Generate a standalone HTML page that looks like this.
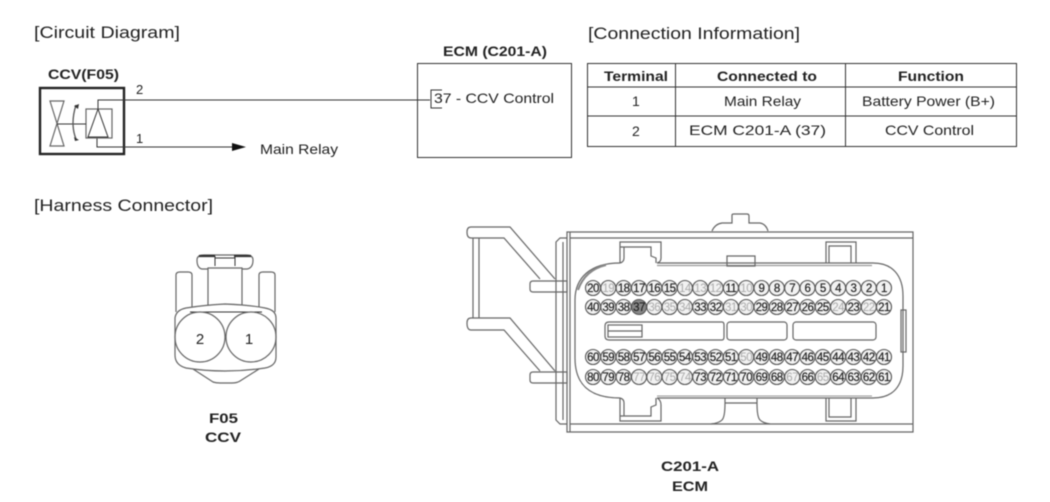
<!DOCTYPE html>
<html><head><meta charset="utf-8"><style>
html,body{margin:0;padding:0;background:#fff}
svg{display:block;filter:blur(.4px)}
text{font-family:"Liberation Sans",sans-serif;fill:#222}
.b{font-weight:bold}
.l{fill:none;stroke:#333;stroke-width:1}
.g{fill:none;stroke:#666;stroke-width:1.2}
.d{fill:none;stroke:#555;stroke-width:1.3}
.p circle{fill:#f2f2f2;stroke:#555;stroke-width:1.1}
.p text{font-size:11.5px;letter-spacing:-.5px;text-anchor:middle;fill:#222;stroke:#222;stroke-width:.2}
.p .f{fill:#aaa;stroke:none}
</style></head><body>
<svg width="1050" height="502" viewBox="0 0 1050 502" xmlns="http://www.w3.org/2000/svg">
<text x="34" y="38" font-size="17" textLength="146" lengthAdjust="spacingAndGlyphs">[Circuit Diagram]</text>
<text x="588" y="39" font-size="17" textLength="212" lengthAdjust="spacingAndGlyphs">[Connection Information]</text>
<text x="34" y="211" font-size="17" textLength="179" lengthAdjust="spacingAndGlyphs">[Harness Connector]</text>

<text x="48" y="79" font-size="14" class="b" textLength="71" lengthAdjust="spacingAndGlyphs">CCV(F05)</text>
<rect x="40" y="88" width="84" height="66" fill="none" stroke="#222" stroke-width="2.4"/>
<text x="136" y="94" font-size="13">2</text>
<text x="136" y="143" font-size="13">1</text>
<path d="M98 109V100H430" class="l" stroke-width="1.2"/>
<path d="M97 138V147H232" class="l"/>
<path d="M232 143L246 147L232 151Z" fill="#111"/>
<text x="260" y="154" font-size="14" textLength="78" lengthAdjust="spacingAndGlyphs">Main Relay</text>
<rect x="86" y="109" width="26" height="29" class="g"/>
<path d="M98 109L88 137H108Z" class="l"/>
<path d="M50 101H64L50 146H64Z" class="g"/>
<path d="M57 124H86" class="l"/>
<path d="M76 105Q70 124 76 139" class="d" stroke-width="1.5"/>
<path d="M74 106L79 104L78 109ZM74 137L79 140L75 141Z" fill="#333"/>

<text x="443" y="56" font-size="14" class="b" textLength="104" lengthAdjust="spacingAndGlyphs">ECM (C201-A)</text>
<rect x="417.500" y="63.500" width="154" height="94" class="l"/>
<path d="M442 90H431V108H442" class="l"/>
<text x="434" y="103" font-size="14" textLength="120" lengthAdjust="spacingAndGlyphs">37 - CCV Control</text>

<rect x="587.500" y="63.500" width="429" height="83" class="l"/>
<path d="M587 87H1017M587 116H1017M675.500 63V147M845.500 63V147" class="l"/>
<g font-size="14">
<text x="604" y="81" class="b" textLength="64" lengthAdjust="spacingAndGlyphs">Terminal</text>
<text x="717" y="81" class="b" textLength="100" lengthAdjust="spacingAndGlyphs">Connected to</text>
<text x="898" y="81" class="b" textLength="66" lengthAdjust="spacingAndGlyphs">Function</text>
<text x="632" y="106">1</text>
<text x="724" y="106" textLength="77" lengthAdjust="spacingAndGlyphs">Main Relay</text>
<text x="862" y="106" textLength="133" lengthAdjust="spacingAndGlyphs">Battery Power (B+)</text>
<text x="632" y="136">2</text>
<text x="689" y="135" textLength="137" lengthAdjust="spacingAndGlyphs">ECM C201-A (37)</text>
<text x="885" y="135" textLength="89" lengthAdjust="spacingAndGlyphs">CCV Control</text>
</g>

<!-- F05 connector -->
<g>
<path d="M192 307V275Q192 272 188 272H180Q176 272 176 275V312" class="g"/>
<path d="M259 307V275Q259 272 263 272H271Q275 272 275 275V312" class="g"/>
<path d="M208 305V268H242V305" class="g"/>
<path d="M208 269H202Q197 268 197 260Q197 255 204 255H246Q253 255 253 260Q253 268 247 269H242" class="g"/>
<path d="M199 256H215M234 256H251" stroke="#333" stroke-width="2.200" fill="none"/>
<path d="M215 256V266M235 256V266M215 258H235" class="l"/>
<path d="M175 337V318Q176 310 186 308Q205 305 225 304Q250 305 265 308Q276 310 276 318V357Q276 366 265 368Q245 371 225 371Q205 371 186 368Q175 365 175 355Z" class="g"/>
<path d="M193 369L213 382Q216 383 220 383H232Q237 383 240 381L259 369" class="g"/>
<path d="M190 312H262" class="l"/>
<circle cx="200" cy="337" r="25" fill="#fff" class="g"/>
<circle cx="251" cy="337" r="25" fill="#fff" class="g"/>
<text x="200" y="344" font-size="15" text-anchor="middle">2</text>
<text x="249" y="344" font-size="15" text-anchor="middle">1</text>
</g>
<text x="209" y="423" font-size="14" class="b" textLength="29" lengthAdjust="spacingAndGlyphs">F05</text>
<text x="205" y="442" font-size="14" class="b" textLength="36" lengthAdjust="spacingAndGlyphs">CCV</text>

<!-- ECM connector -->
<g>
<path d="M712 231Q715 224 722 223H732V215Q732 214 734 214H747Q749 214 749 216V223H760Q766 224 768 231" class="g"/>
<path d="M567 232H913V432H567Z" class="g"/>
<path d="M570 238H913M570 424H913M570 232V432" class="g"/>
<path d="M567 238H560L556 242V420L560 424H567M563 242V420" class="g"/>
<path d="M530 284Q530 281 533 281H567V292H533Q530 292 530 289Z" class="g" fill="#fff"/>
<path d="M530 375Q530 372 533 372H567V383H533Q530 383 530 380Z" class="g" fill="#fff"/>
<path d="M555 279L510 227H471Q467 227 467 232Q467 238 471 238H504L540 279" class="g"/>
<path d="M555 371L510 318H471Q467 318 467 323Q467 330 471 330H504L540 371" class="g"/>
<path d="M473 238V318M479 238V318" class="g"/>
<path d="M657 263H873C893 263 903 276 903 296V366C903 386 893 398 873 398H657" class="g"/>
<path d="M657 265.500H872" stroke="#999" stroke-width="1.200" fill="none"/>
<path d="M657 396H872" stroke="#999" stroke-width="1" fill="none"/>
<path d="M620 263C590 263 575 278 575 300V358C575 385 590 398 620 398" class="g"/>
<path d="M620 263Q624 262 624 258V247M620 263V242H661V258Q661 262 657 263M625 247H651V256L656 258V263M620 247H651" class="g"/>
<path d="M620 398Q624 399 624 403V416M620 398V421H661V405Q661 400 657 398M625 416H651V407L656 405V398M620 416H651" class="g"/>
<path d="M826 263V242H856V263M829 263V246H851V263" class="g"/>
<path d="M826 398V421H856V398M829 398V417H851V398" class="g"/>
<path d="M727 256H755V266H727Z" class="g"/>
<path d="M725 398V403H757V398M725 403Q725 417 722 420Q719 423 711 424M757 403Q757 417 760 420Q763 423 770 424" class="g"/>
<rect x="901" y="310" width="5" height="42" fill="#fff" class="g"/>
<path d="M609 322H722Q724 322 724 325V337Q724 340 722 340H609Q605 340 605 336V326Q605 322 609 322Z" class="g"/>
<rect x="608" y="325" width="34" height="12" class="g"/>
<path d="M608 331H642" class="g"/>
<rect x="727" y="322" width="60" height="18" rx="3" class="g"/>
<rect x="793" y="322" width="83" height="18" rx="3" class="g"/>
<path d="M578 290Q585 270 606 265" stroke="#888" stroke-width="2" fill="none"/>
</g>

<g class="p">
<circle cx="593" cy="288" r="7.500"/><text x="593" y="292">20</text>
<circle cx="608.300" cy="288" r="7.500"/><text x="608.300" y="292" class="f">19</text>
<circle cx="623.600" cy="288" r="7.500"/><text x="623.600" y="292">18</text>
<circle cx="639" cy="288" r="7.500"/><text x="639" y="292">17</text>
<circle cx="654.300" cy="288" r="7.500"/><text x="654.300" y="292">16</text>
<circle cx="669.600" cy="288" r="7.500"/><text x="669.600" y="292">15</text>
<circle cx="684.900" cy="288" r="7.500"/><text x="684.900" y="292" class="f">14</text>
<circle cx="700.200" cy="288" r="7.500"/><text x="700.200" y="292" class="f">13</text>
<circle cx="715.600" cy="288" r="7.500"/><text x="715.600" y="292" class="f">12</text>
<circle cx="730.900" cy="288" r="7.500"/><text x="730.900" y="292">11</text>
<circle cx="746.200" cy="288" r="7.500"/><text x="746.200" y="292" class="f">10</text>
<circle cx="761.500" cy="288" r="7.500"/><text x="761.500" y="292">9</text>
<circle cx="776.800" cy="288" r="7.500"/><text x="776.800" y="292">8</text>
<circle cx="792.200" cy="288" r="7.500"/><text x="792.200" y="292">7</text>
<circle cx="807.500" cy="288" r="7.500"/><text x="807.500" y="292">6</text>
<circle cx="822.800" cy="288" r="7.500"/><text x="822.800" y="292">5</text>
<circle cx="838.100" cy="288" r="7.500"/><text x="838.100" y="292">4</text>
<circle cx="853.400" cy="288" r="7.500"/><text x="853.400" y="292">3</text>
<circle cx="868.800" cy="288" r="7.500"/><text x="868.800" y="292">2</text>
<circle cx="884" cy="288" r="7.500"/><text x="884" y="292">1</text>

<circle cx="593" cy="307" r="7.500"/><text x="593" y="311">40</text>
<circle cx="608.300" cy="307" r="7.500"/><text x="608.300" y="311">39</text>
<circle cx="623.600" cy="307" r="7.500"/><text x="623.600" y="311">38</text>
<circle cx="639" cy="307" r="7.500" style="fill:#888"/><text x="639" y="311">37</text>
<circle cx="654.300" cy="307" r="7.500"/><text x="654.300" y="311" class="f">36</text>
<circle cx="669.600" cy="307" r="7.500"/><text x="669.600" y="311" class="f">35</text>
<circle cx="684.900" cy="307" r="7.500"/><text x="684.900" y="311" class="f">34</text>
<circle cx="700.200" cy="307" r="7.500"/><text x="700.200" y="311">33</text>
<circle cx="715.600" cy="307" r="7.500"/><text x="715.600" y="311">32</text>
<circle cx="730.900" cy="307" r="7.500"/><text x="730.900" y="311" class="f">31</text>
<circle cx="746.200" cy="307" r="7.500"/><text x="746.200" y="311" class="f">30</text>
<circle cx="761.500" cy="307" r="7.500"/><text x="761.500" y="311">29</text>
<circle cx="776.800" cy="307" r="7.500"/><text x="776.800" y="311">28</text>
<circle cx="792.200" cy="307" r="7.500"/><text x="792.200" y="311">27</text>
<circle cx="807.500" cy="307" r="7.500"/><text x="807.500" y="311">26</text>
<circle cx="822.800" cy="307" r="7.500"/><text x="822.800" y="311">25</text>
<circle cx="838.100" cy="307" r="7.500"/><text x="838.100" y="311" class="f">24</text>
<circle cx="853.400" cy="307" r="7.500"/><text x="853.400" y="311">23</text>
<circle cx="868.800" cy="307" r="7.500"/><text x="868.800" y="311" class="f">22</text>
<circle cx="884" cy="307" r="7.500"/><text x="884" y="311">21</text>

<circle cx="593" cy="357" r="7.500"/><text x="593" y="361">60</text>
<circle cx="608.300" cy="357" r="7.500"/><text x="608.300" y="361">59</text>
<circle cx="623.600" cy="357" r="7.500"/><text x="623.600" y="361">58</text>
<circle cx="639" cy="357" r="7.500"/><text x="639" y="361">57</text>
<circle cx="654.300" cy="357" r="7.500"/><text x="654.300" y="361">56</text>
<circle cx="669.600" cy="357" r="7.500"/><text x="669.600" y="361">55</text>
<circle cx="684.900" cy="357" r="7.500"/><text x="684.900" y="361">54</text>
<circle cx="700.200" cy="357" r="7.500"/><text x="700.200" y="361">53</text>
<circle cx="715.600" cy="357" r="7.500"/><text x="715.600" y="361">52</text>
<circle cx="730.900" cy="357" r="7.500"/><text x="730.900" y="361">51</text>
<circle cx="746.200" cy="357" r="7.500"/><text x="746.200" y="361" class="f">50</text>
<circle cx="761.500" cy="357" r="7.500"/><text x="761.500" y="361">49</text>
<circle cx="776.800" cy="357" r="7.500"/><text x="776.800" y="361">48</text>
<circle cx="792.200" cy="357" r="7.500"/><text x="792.200" y="361">47</text>
<circle cx="807.500" cy="357" r="7.500"/><text x="807.500" y="361">46</text>
<circle cx="822.800" cy="357" r="7.500"/><text x="822.800" y="361">45</text>
<circle cx="838.100" cy="357" r="7.500"/><text x="838.100" y="361">44</text>
<circle cx="853.400" cy="357" r="7.500"/><text x="853.400" y="361">43</text>
<circle cx="868.800" cy="357" r="7.500"/><text x="868.800" y="361">42</text>
<circle cx="884" cy="357" r="7.500"/><text x="884" y="361">41</text>

<circle cx="593" cy="377" r="7.500"/><text x="593" y="381">80</text>
<circle cx="608.300" cy="377" r="7.500"/><text x="608.300" y="381">79</text>
<circle cx="623.600" cy="377" r="7.500"/><text x="623.600" y="381">78</text>
<circle cx="639" cy="377" r="7.500"/><text x="639" y="381" class="f">77</text>
<circle cx="654.300" cy="377" r="7.500"/><text x="654.300" y="381" class="f">76</text>
<circle cx="669.600" cy="377" r="7.500"/><text x="669.600" y="381" class="f">75</text>
<circle cx="684.900" cy="377" r="7.500"/><text x="684.900" y="381" class="f">74</text>
<circle cx="700.200" cy="377" r="7.500"/><text x="700.200" y="381">73</text>
<circle cx="715.600" cy="377" r="7.500"/><text x="715.600" y="381">72</text>
<circle cx="730.900" cy="377" r="7.500"/><text x="730.900" y="381">71</text>
<circle cx="746.200" cy="377" r="7.500"/><text x="746.200" y="381">70</text>
<circle cx="761.500" cy="377" r="7.500"/><text x="761.500" y="381">69</text>
<circle cx="776.800" cy="377" r="7.500"/><text x="776.800" y="381">68</text>
<circle cx="792.200" cy="377" r="7.500"/><text x="792.200" y="381" class="f">67</text>
<circle cx="807.500" cy="377" r="7.500"/><text x="807.500" y="381">66</text>
<circle cx="822.800" cy="377" r="7.500"/><text x="822.800" y="381" class="f">65</text>
<circle cx="838.100" cy="377" r="7.500"/><text x="838.100" y="381">64</text>
<circle cx="853.400" cy="377" r="7.500"/><text x="853.400" y="381">63</text>
<circle cx="868.800" cy="377" r="7.500"/><text x="868.800" y="381">62</text>
<circle cx="884" cy="377" r="7.500"/><text x="884" y="381">61</text>
</g>

<text x="661" y="471" font-size="14" class="b" textLength="58" lengthAdjust="spacingAndGlyphs">C201-A</text>
<text x="672" y="491" font-size="14" class="b" textLength="36" lengthAdjust="spacingAndGlyphs">ECM</text>
</svg>
</body></html>
